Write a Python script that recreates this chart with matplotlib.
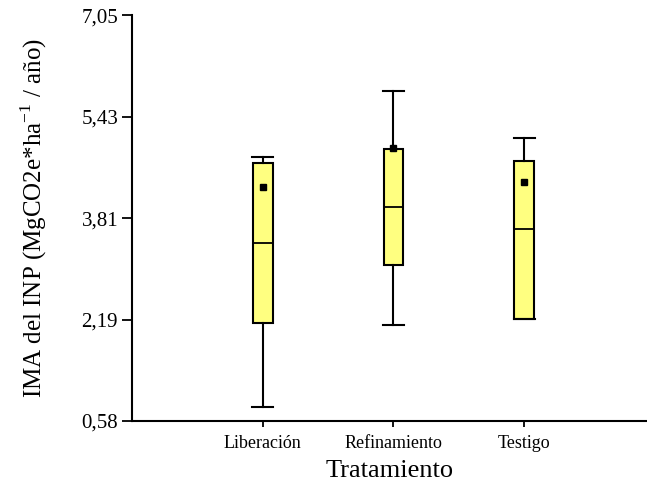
import matplotlib.pyplot as plt

# valores
tratamientos = ["Liberación", "Refinamiento", "Testigo"]
bigote_inf = [0.80, 2.11, 2.21]
cuartil_1 = [2.14, 3.07, 2.21]
mediana = [3.42, 3.99, 3.64]
cuartil_3 = [4.69, 4.91, 4.72]
bigote_sup = [4.79, 5.84, 5.09]
media = [4.31, 4.93, 4.39]
marcas_y = [0.58, 2.19, 3.81, 5.43, 7.05]

plt.rcParams["font.family"] = ["Liberation Serif", "DejaVu Serif"]
plt.rcParams["mathtext.fontset"] = "custom"
plt.rcParams["mathtext.rm"] = "Liberation Serif"

stats = []
for i, nombre in enumerate(tratamientos):
    stats.append(
        {
            "label": nombre,
            "whislo": bigote_inf[i],
            "q1": cuartil_1[i],
            "med": mediana[i],
            "q3": cuartil_3[i],
            "whishi": bigote_sup[i],
            "mean": media[i],
            "fliers": [],
        }
    )

fig = plt.figure(figsize=(6.47, 4.86), dpi=100)
ax = fig.add_axes([0.204, 0.134, 0.796, 0.835])

posiciones = list(range(1, len(tratamientos) + 1))
ax.bxp(
    stats,
    positions=posiciones,
    widths=0.15,
    capwidths=0.16,
    patch_artist=True,
    showmeans=True,
    boxprops=dict(facecolor="#FFFF80", edgecolor="black", linewidth=1.5),
    medianprops=dict(color="black", linewidth=1.3),
    whiskerprops=dict(color="black", linewidth=1.5),
    capprops=dict(color="black", linewidth=1.5),
    meanprops=dict(marker="s", markerfacecolor="black", markeredgecolor="black", markersize=4.5),
)

ax.set_xlim(0.0, 3.94)
ax.set_ylim(marcas_y[0], marcas_y[-1])
ax.set_yticks(marcas_y)
ax.set_yticklabels([f"{v:.2f}".replace(".", ",") for v in marcas_y], fontsize=15)
ax.set_xticks(posiciones)
ax.set_xticklabels(tratamientos, fontsize=13)

ax.spines["top"].set_visible(False)
ax.spines["right"].set_visible(False)
ax.spines["left"].set_linewidth(1.5)
ax.spines["bottom"].set_linewidth(1.5)
ax.tick_params(axis="y", direction="out", length=7, width=1.3, pad=3)
ax.tick_params(axis="x", direction="out", length=4, width=1.3, pad=6)

ax.set_ylabel("IMA del INP (MgCO2e*ha$^{\\mathrm{-1}}$ / año)", fontsize=18, labelpad=23)
ax.set_xlabel("Tratamiento", fontsize=19, labelpad=6)

fig.savefig("out.png", dpi=100)
